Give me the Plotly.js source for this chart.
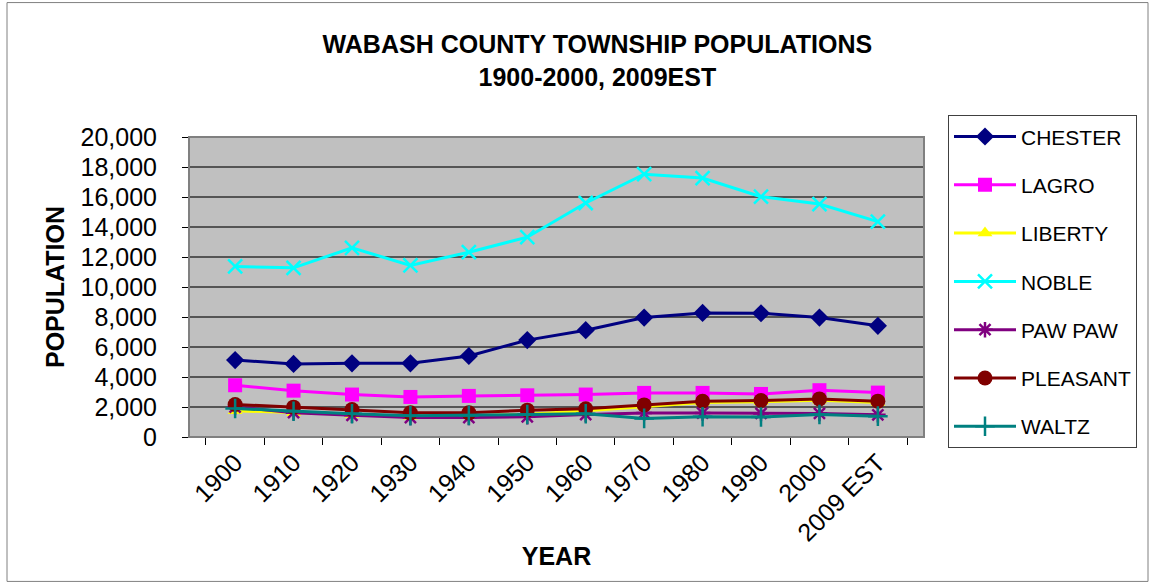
<!DOCTYPE html>
<html>
<head>
<meta charset="utf-8">
<script src="https://cdn.plot.ly/plotly-3.0.1.min.js"></script>
<style>html,body{margin:0;padding:0;background:#fff;}#chart{width:1151px;height:584px;}</style>
</head>
<body>
<div id="chart"></div>
<script>
const years = ["1900","1910","1920","1930","1940","1950","1960","1970","1980","1990","2000","2009 EST"];
const chester  = [5130,4870,4910,4910,5400,6460,7120,7960,8270,8250,7960,7410];
const lagro    = [3450,3090,2830,2670,2740,2780,2830,2940,2940,2870,3120,2960];
const liberty  = [1750,1620,1500,1380,1420,1520,1750,2050,2300,2350,2450,2300];
const noble    = [11370,11280,12610,11440,12320,13320,15600,17520,17260,16020,15530,14360];
const pawpaw   = [2000,1620,1450,1300,1300,1350,1500,1600,1600,1570,1570,1480];
const pleasant = [2170,1990,1830,1610,1610,1790,1880,2140,2380,2430,2540,2390];
const waltz    = [1900,1720,1550,1420,1440,1500,1550,1240,1350,1330,1500,1390];

const seriesNames = ["CHESTER","LAGRO","LIBERTY","NOBLE","PAW PAW","PLEASANT","WALTZ"];
const seriesData = [chester,lagro,liberty,noble,pawpaw,pleasant,waltz];
const colors = ["#000080","#FF00FF","#FFFF00","#00FFFF","#800080","#800000","#008080"];
const symbols = ["diamond","square","triangle-up","x-thin-open","asterisk-open","circle","cross-thin-open"];
const sizes = [14,14,13,14,13,15,14];

const traces = seriesNames.map((n,i)=>({
  type:"scatter", mode:"lines+markers", name:n, x:years, y:seriesData[i],
  legendgroup:"g"+i,
  line:{color:colors[i], width:3},
  marker:{symbol:symbols[i], size:sizes[i], color:colors[i], line:{color:colors[i], width:(symbols[i].indexOf("open")>=0?2.5:0)}}
}));

const L=189, R=924, T=136.7, B=437.3;
const px = x => (x-L)/(R-L);
const py = y => (B-y)/(B-T);

const layout = {
  width:1151, height:584,
  margin:{l:189, r:227, t:137, b:147},
  paper_bgcolor:"#ffffff", plot_bgcolor:"#C0C0C0",
  font:{family:"Liberation Sans, Arial, sans-serif", color:"#000"},
  title:{text:"<b>WABASH COUNTY TOWNSHIP POPULATIONS<br>1900-2000, 2009EST</b>", font:{size:25, family:"Liberation Sans, Arial, sans-serif"}, x:0.519, xanchor:"center", xref:"container", y:1-53/584, yanchor:"middle", yref:"container"},
  showlegend:true,
  legend:{x:px(948), xanchor:"left", y:py(115), yanchor:"top", bordercolor:"#404040", borderwidth:1, bgcolor:"#fff", font:{size:21}, traceorder:"grouped", tracegroupgap:18, itemwidth:62, maxheight:440},
  xaxis:{type:"category", tickson:"boundaries", ticks:"outside", ticklen:7, tickcolor:"#000", tickangle:-45, tickfont:{size:25}, showgrid:false, showline:true, linecolor:"#000", linewidth:1, mirror:false, zeroline:false,
         title:{text:"<b>YEAR</b>", font:{size:25}, standoff:2}},
  yaxis:{range:[0,20000], tick0:0, dtick:2000, tickformat:",d", ticks:"outside", ticklen:6, tickcolor:"#000", tickfont:{size:25}, ticklabelstandoff:20, showgrid:true, gridcolor:"#555", gridwidth:1.3, showline:true, linecolor:"#000", linewidth:1, zeroline:false,
         title:{text:"<b>POPULATION</b>", font:{size:25}, standoff:8}},
  shapes:[
    {type:"rect", xref:"paper", yref:"paper", x0:0, x1:1, y0:0, y1:1, line:{color:"#808080", width:2}, fillcolor:"rgba(0,0,0,0)"},
    {type:"rect", xref:"paper", yref:"paper", x0:px(7), x1:px(1148), y0:py(582), y1:py(2), line:{color:"#808080", width:1}, fillcolor:"rgba(0,0,0,0)"}
  ]
};

Plotly.newPlot("chart", traces, layout, {displayModeBar:false, staticPlot:true});
</script>
</body>
</html>
